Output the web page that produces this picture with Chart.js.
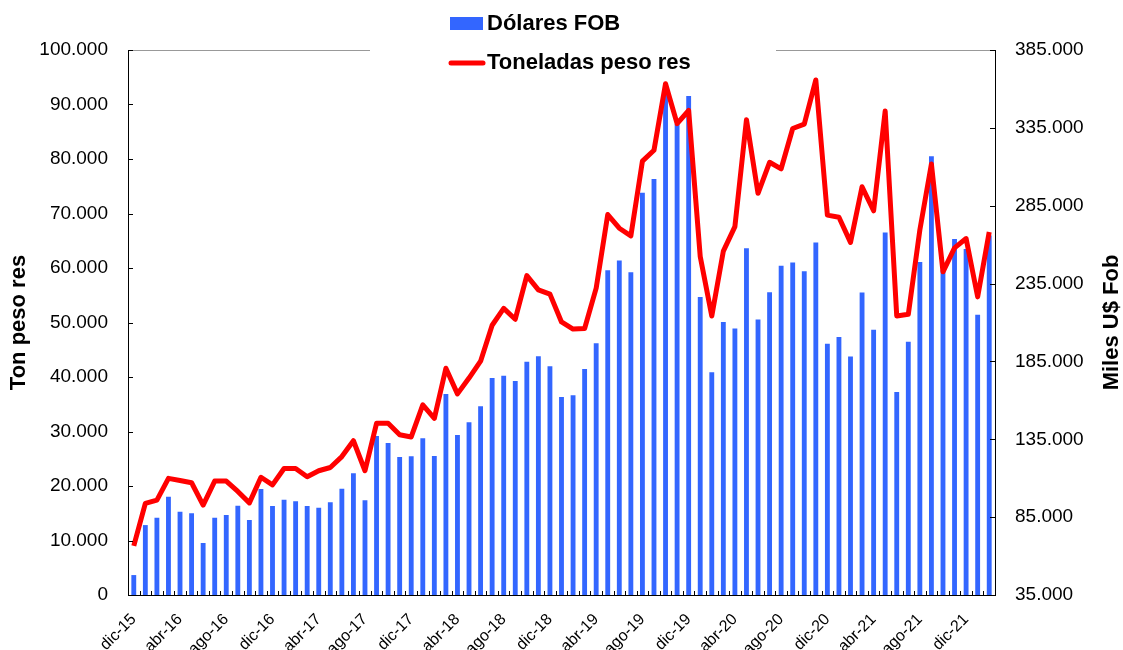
<!DOCTYPE html>
<html>
<head>
<meta charset="utf-8">
<script src="https://cdn.jsdelivr.net/npm/chart.js@4.4.1/dist/chart.umd.min.js"></script>
<style>
  body { margin: 0; background: #fff; }
  #wrap { width: 1123px; height: 650px; position: relative; }
</style>
</head>
<body>
<div id="wrap"><canvas id="exportChart"></canvas></div>
<script>
// Months dic-15 .. feb-22
const months = ['ene', 'feb', 'mar', 'abr', 'may', 'jun', 'jul', 'ago', 'sep', 'oct', 'nov', 'dic'];
const labels = [];
for (let i = 0; i < 75; i++) {
    const m = (11 + i) % 12;
    const y = 15 + Math.floor((11 + i) / 12);
    labels.push(months[m] + '-' + y);
}

// Miles U$ Fob (right axis)
const dolaresFob = [
    47800, 79900, 84600, 98100, 88500, 87500, 68400, 84600, 86400, 92300,
    83200, 103100, 92200, 96200, 95200, 92200, 91100, 94500, 103300, 113200,
    95800, 137100, 132600, 123600, 124100, 135600, 124300, 164100, 137800, 145900,
    156200, 174400, 175800, 172400, 184800, 188300, 181900, 162200, 163200, 180100,
    196600, 243500, 249800, 242200, 293400, 302200, 363800, 337500, 355500, 226400,
    178000, 210300, 206100, 257700, 212000, 229500, 246400, 248600, 242900, 261400,
    196300, 200700, 188200, 229200, 205300, 267800, 165300, 197700, 248900, 316700,
    243700, 263600, 257200, 214900, 265800
];

// Ton peso res (left axis)
const toneladas = [
    9000, 16800, 17400, 21400, 21000, 20600, 16500, 20900, 20900, 19000,
    16900, 21600, 20200, 23200, 23200, 21700, 22800, 23400, 25400, 28300,
    22800, 31500, 31500, 29400, 29000, 34900, 32400, 41600, 36900, 39800,
    42900, 49500, 52600, 50600, 58600, 56000, 55200, 50100, 48800, 48900,
    56300, 69800, 67300, 65900, 79600, 81600, 93800, 86500, 88900, 62100,
    51200, 63100, 67600, 87200, 73700, 79400, 78200, 85600, 86400, 94500,
    69700, 69300, 64700, 74900, 70500, 88800, 51200, 51500, 67000, 79100,
    59300, 63700, 65400, 54700, 66600
];

const FONT = "'Liberation Sans', Arial, sans-serif";

function miles(v) {
    return String(v).replace(/\B(?=(\d{3})+(?!\d))/g, '.');
}

// inward tick marks, grey top border, legend box and right title
const extras = {
    id: 'extras',
    afterDraw(chart) {
        const ctx = chart.ctx;
        const a = chart.chartArea;
        const sx = chart.scales.x, sy = chart.scales.y, sy1 = chart.scales.y1;
        ctx.save();

        ctx.strokeStyle = '#999999';
        ctx.lineWidth = 1;
        ctx.beginPath();
        ctx.moveTo(a.left, a.top + 0.5);
        ctx.lineTo(a.right, a.top + 0.5);
        ctx.stroke();

        ctx.strokeStyle = '#000';
        ctx.beginPath();
        sy.ticks.forEach((t, i) => {
            const y = Math.round(sy.getPixelForTick(i)) + 0.5;
            ctx.moveTo(a.left, y); ctx.lineTo(a.left + 5, y);
        });
        sy1.ticks.forEach((t, i) => {
            const y = Math.round(sy1.getPixelForTick(i)) + 0.5;
            ctx.moveTo(a.right, y); ctx.lineTo(a.right - 5, y);
        });
        for (let i = 1; i < labels.length; i++) {
            const x = Math.round(sx.getPixelForValue(i - 0.5)) + 0.5;
            ctx.moveTo(x, a.bottom); ctx.lineTo(x, a.bottom - 4);
        }
        ctx.stroke();

        // legend
        ctx.fillStyle = '#fff';
        ctx.fillRect(370, 0, 406, 78);
        const ds = chart.data.datasets;
        ctx.font = 'bold 22px ' + FONT;
        ctx.textBaseline = 'middle';
        ctx.textAlign = 'left';
        ctx.fillStyle = ds[0].backgroundColor;
        ctx.fillRect(450, 17, 33, 13);
        ctx.fillStyle = '#000';
        ctx.fillText(ds[0].label, 487, 24);
        ctx.strokeStyle = ds[1].borderColor;
        ctx.lineWidth = 5;
        ctx.lineCap = 'round';
        ctx.beginPath();
        ctx.moveTo(451, 63); ctx.lineTo(483, 63);
        ctx.stroke();
        ctx.fillText(ds[1].label, 487, 63);

        // right axis title, reading bottom to top
        ctx.translate(1112, (a.top + a.bottom) / 2);
        ctx.rotate(-Math.PI / 2);
        ctx.textAlign = 'center';
        ctx.fillText('Miles U$ Fob', 0, 0);
        ctx.restore();
    }
};

function initChart() {
    const ctx = document.getElementById('exportChart');
    new Chart(ctx, {
        type: 'bar',
        data: {
            labels: labels,
            datasets: [{
                label: 'Dólares FOB',
                data: dolaresFob,
                yAxisID: 'y1',
                backgroundColor: '#3366ff',
                barPercentage: 0.42,
                categoryPercentage: 1,
                order: 1
            }, {
                type: 'line',
                label: 'Toneladas peso res',
                data: toneladas,
                yAxisID: 'y',
                borderColor: '#ff0000',
                borderWidth: 5,
                borderJoinStyle: 'round',
                pointRadius: 0,
                tension: 0,
                order: 0
            }]
        },
        options: {
            responsive: true,
            maintainAspectRatio: false,
            animation: false,
            layout: { padding: { top: 50, left: 0, right: 0, bottom: 0 } },
            plugins: {
                legend: { display: false },
                tooltip: { enabled: false }
            },
            scales: {
                x: {
                    grid: { display: false },
                    border: { display: true, color: '#000', width: 1 },
                    afterFit: (s) => { s.height = 55; },
                    ticks: {
                        autoSkip: false,
                        maxRotation: 45,
                        minRotation: 45,
                        padding: 7,
                        color: '#000',
                        font: { family: FONT, size: 16 },
                        callback: function (val, index) {
                            return index % 4 === 0 ? this.getLabelForValue(val) : null;
                        }
                    }
                },
                y: {
                    position: 'left',
                    min: 0,
                    max: 100000,
                    grid: { display: false, drawTicks: false },
                    border: { display: true, color: '#000', width: 1 },
                    afterFit: (s) => { s.width = 128; },
                    title: {
                        display: true,
                        text: 'Ton peso res',
                        color: '#000',
                        padding: { top: 6, bottom: 0 },
                        font: { family: FONT, size: 22, weight: 'bold' }
                    },
                    ticks: {
                        stepSize: 10000,
                        padding: 20,
                        color: '#000',
                        font: { family: FONT, size: 19 },
                        callback: (v) => miles(v)
                    }
                },
                y1: {
                    position: 'right',
                    min: 35000,
                    max: 385000,
                    grid: { display: false, drawTicks: false },
                    border: { display: true, color: '#000', width: 1 },
                    afterFit: (s) => { s.width = 128; },
                    ticks: {
                        stepSize: 50000,
                        padding: 20,
                        color: '#000',
                        font: { family: FONT, size: 19 },
                        callback: (v) => miles(v)
                    }
                }
            }
        },
        plugins: [extras]
    });
}

document.addEventListener('DOMContentLoaded', initChart);
</script>
</body>
</html>
